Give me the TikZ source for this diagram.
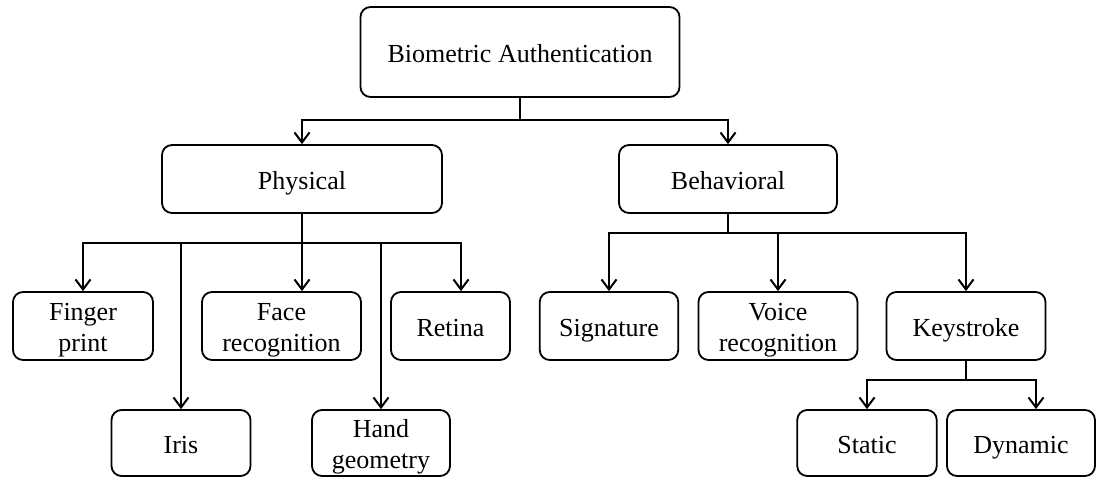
\documentclass[tikz,border=0pt]{standalone}
\usepackage{fontspec}
\setmainfont{Liberation Serif}
\usetikzlibrary{arrows.meta}
\newcommand{\mytwo}[2]{\raisebox{-3.5pt}[\height][\depth]{\begin{tabular}{@{}c@{}}#1\\#2\end{tabular}}}
\begin{document}
\begin{tikzpicture}[x=1pt,y=-1pt,
  box/.style={draw, line width=1.8pt, rounded corners=10pt, align=center,
    font=\fontsize{26}{31}\selectfont, inner sep=0pt},
  one/.style={text height=20pt, text depth=0pt},
  conn/.style={line width=2pt},
  arr/.style={conn, -{Straight Barb[length=10pt,width=15pt,line width=2pt]}}]
\useasboundingbox (0,0) rectangle (1097,477);
% nodes
\node[box, one, minimum width=319pt, minimum height=90pt] (root) at (520,52) {Biometric Authentication};
\node[box, one, minimum width=280pt, minimum height=68pt] (phys) at (302,179) {Physical};
\node[box, one, minimum width=218pt, minimum height=68pt] (behav) at (728,179) {Behavioral};
\node[box, minimum width=140pt, minimum height=68pt] (finger) at (83,326) {\mytwo{Finger}{print}};
\node[box, minimum width=159pt, minimum height=68pt] (face) at (281.5,326) {\mytwo{Face}{recognition}};
\node[box, one, minimum width=119pt, minimum height=68pt] (retina) at (450.5,326) {Retina};
\node[box, one, minimum width=139pt, minimum height=66pt] (iris) at (181,443) {Iris};
\node[box, minimum width=138pt, minimum height=66pt] (hand) at (381,443) {\mytwo{Hand}{geometry}};
\node[box, one, minimum width=138.5pt, minimum height=68pt] (sig) at (609,326) {Signature};
\node[box, minimum width=159pt, minimum height=68pt] (voice) at (778,326) {\mytwo{Voice}{recognition}};
\node[box, one, minimum width=159pt, minimum height=68pt] (key) at (966,326) {Keystroke};
\node[box, one, minimum width=139.5pt, minimum height=66pt] (static) at (867,443) {Static};
\node[box, one, minimum width=148pt, minimum height=66pt] (dyn) at (1021,443) {Dynamic};
% junctions
\coordinate (rj) at (520,120);
\coordinate (pj) at (302,243);
\coordinate (bj) at (728,233);
\coordinate (kj) at (966,380);
% connectors
\draw[conn] (root.south) -- (rj);
\draw[arr] (rj) -| (phys.north);
\draw[arr] (rj) -| (behav.north);
\draw[conn] (phys.south) -- (pj);
\draw[arr] (pj) -| (finger.north);
\draw[arr] (pj) -| (iris.north);
\draw[arr] (pj) -- (pj |- face.north);
\draw[arr] (pj) -| (hand.north);
\draw[arr] (pj) -| ([xshift=10.5pt]retina.north);
\draw[conn] (behav.south) -- (bj);
\draw[arr] (bj) -| (sig.north);
\draw[arr] (bj) -| (voice.north);
\draw[arr] (bj) -| (key.north);
\draw[conn] (key.south) -- (kj);
\draw[arr] (kj) -| (static.north);
\draw[arr] (kj) -| ([xshift=15pt]dyn.north);
\end{tikzpicture}
\end{document}
